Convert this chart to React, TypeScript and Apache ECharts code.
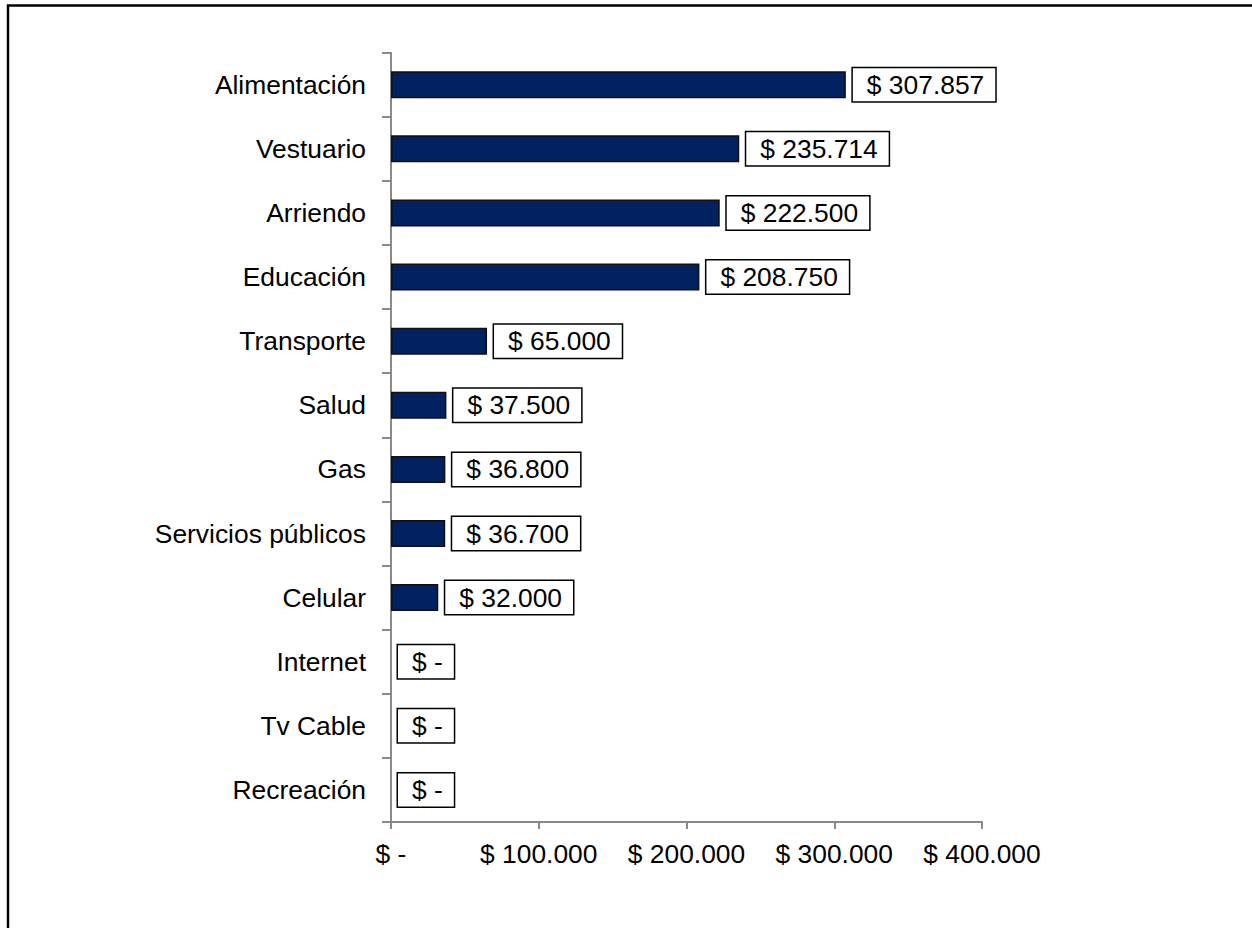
import React, { useEffect, useRef } from "react";
import * as echarts from "echarts";

const categories = [
  "Alimentación",
  "Vestuario",
  "Arriendo",
  "Educación",
  "Transporte",
  "Salud",
  "Gas",
  "Servicios públicos",
  "Celular",
  "Internet",
  "Tv Cable",
  "Recreación",
];
const values = [307857, 235714, 222500, 208750, 65000, 37500, 36800, 36700, 32000, 0, 0, 0];
const xTicks = [0, 100000, 200000, 300000, 400000];

const fmt = (v: number) =>
  v === 0 ? "$ -" : "$ " + String(Math.round(v)).replace(/\B(?=(\d{3})+(?!\d))/g, ".");

const FONT = "'Liberation Sans', Arial, sans-serif";

export default function App() {
  const ref = useRef<HTMLDivElement>(null);
  useEffect(() => {
    if (!ref.current) return;
    const chart = echarts.init(ref.current, null, { renderer: "svg" });
    const cats = [...categories].reverse();
    const vals = [...values].reverse();
    chart.setOption({
      animation: false,
      backgroundColor: "#ffffff",
      textStyle: { fontFamily: FONT },
      graphic: [
        {
          type: "rect",
          shape: { x: 8, y: 5.5, width: 1400, height: 1100 },
          style: { fill: "none", stroke: "#000", lineWidth: 2.5 },
          silent: true,
        },
      ],
      grid: { left: 391, right: 270, top: 52.7, bottom: 106, containLabel: false },
      xAxis: {
        type: "value",
        min: 0,
        max: xTicks[xTicks.length - 1],
        interval: 100000,
        splitLine: { show: false },
        axisLine: { show: true, lineStyle: { color: "#898989", width: 2 } },
        axisTick: { show: true, length: 7, lineStyle: { color: "#898989", width: 2 } },
        axisLabel: {
          color: "#000",
          fontSize: 26.4,
          fontFamily: FONT,
          margin: 19,
          formatter: (v: number) => fmt(v),
        },
      },
      yAxis: {
        type: "category",
        data: cats,
        axisLine: { show: true, lineStyle: { color: "#898989", width: 2 } },
        axisTick: { show: true, length: 9, lineStyle: { color: "#898989", width: 2 } },
        axisLabel: { color: "#000", fontSize: 26.4, fontFamily: FONT, margin: 25 },
      },
      series: [
        {
          type: "bar",
          data: vals.map((v) => ({
            value: v,
            itemStyle: v === 0 ? { borderWidth: 0, opacity: 0 } : undefined,
          })),
          barWidth: 27,
          itemStyle: { color: "#022161", borderColor: "#111", borderWidth: 1.5 },
          label: {
            show: true,
            position: "right",
            distance: 7,
            color: "#000",
            fontSize: 26.4,
            fontFamily: FONT,
            backgroundColor: "#fff",
            borderColor: "#000",
            borderWidth: 1.5,
            padding: [4, 11, 3, 14],
            formatter: (p: any) => fmt(p.value),
            opacity: 1,
          },
        },
      ],
    });
    return () => chart.dispose();
  }, []);
  return (
    <div
      ref={ref}
      style={{ position: "absolute", left: 0, top: 0, width: 1252, height: 928, background: "#fff" }}
    />
  );
}
